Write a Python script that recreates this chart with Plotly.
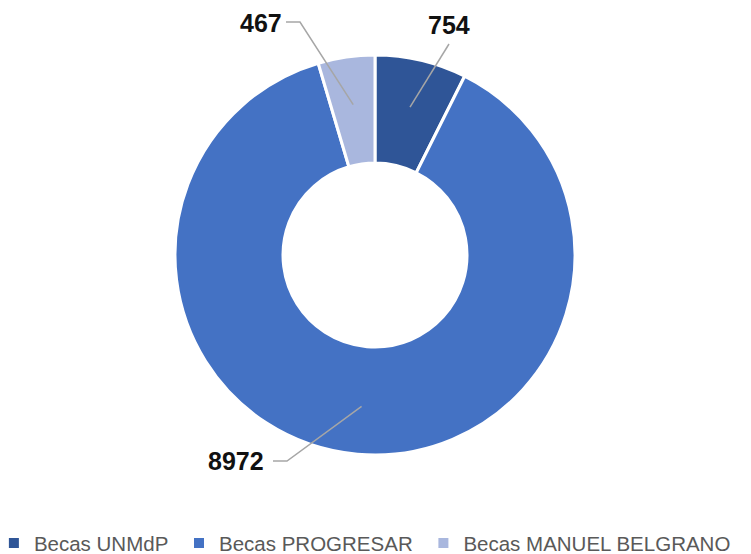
import math
import plotly.graph_objects as go

labels = ["Becas UNMdP", "Becas PROGRESAR", "Becas MANUEL BELGRANO"]
values = [754, 8972, 467]
colors = ["#2f5597", "#4472c4", "#a9b7de"]

# the html body adds an 8px margin, so the figure is drawn 8px smaller
OFF = 8
W, H = 751 - OFF, 554 - OFF
CX, CY, R = 375 - OFF, 255 - OFF, 200

# label text position and elbow of the leader line (page px)
label_pos = [(449, 25), (236, 461), (261, 23)]
elbows = [[(449, 44)], [(287, 461), (273, 461)], [(300, 22), (286, 22)]]
# extra gap after the first two legend entries
legend_pad = ["\u00a0", "\u00a0", ""]


def px_to_paper(x, y):
    return (x - OFF) / W, 1 - (y - OFF) / H


fig = go.Figure(
    go.Pie(
        labels=[l + p for l, p in zip(labels, legend_pad)],
        values=values,
        hole=0.46,
        sort=False,
        direction="clockwise",
        rotation=0,
        marker=dict(colors=colors, line=dict(color="white", width=3)),
        textinfo="none",
        hoverinfo="label+value",
        domain=dict(x=[0, 2 * CX / W], y=[1 - (CY + R) / H, 1 - (CY - R) / H]),
    )
)

total = sum(values)
start = 0.0
for i, v in enumerate(values):
    span = 360 * v / total
    mid = math.radians(start + span / 2)
    start += span
    px_ = CX + OFF + 0.76 * R * math.sin(mid)
    py_ = CY + OFF - 0.76 * R * math.cos(mid)
    pts = [(px_, py_)] + elbows[i]
    path = ""
    for j, (x, y) in enumerate(pts):
        xp, yp = px_to_paper(x, y)
        path += ("M" if j == 0 else " L") + f"{xp:.5f},{yp:.5f}"
    fig.add_shape(type="path", path=path, xref="paper", yref="paper",
                  line=dict(color="#a6a6a6", width=1.5))
    lx, ly = px_to_paper(*label_pos[i])
    fig.add_annotation(x=lx, y=ly, xref="paper", yref="paper", text=f"<b>{v}</b>",
                       xanchor="center", yanchor="middle", showarrow=False,
                       font=dict(size=25, color="#111111", family="Liberation Sans, Arial"))

fig.update_layout(
    width=W,
    height=H,
    margin=dict(l=0, r=0, t=0, b=0, autoexpand=False),
    paper_bgcolor="white",
    plot_bgcolor="white",
    legend=dict(orientation="h", x=-0.019, xanchor="left", y=-0.017, yanchor="bottom",
                font=dict(size=20.5, color="#595959", family="Liberation Sans, Arial, sans-serif"),
                itemsizing="constant", traceorder="normal"),
)

fig.write_html("out.html")
